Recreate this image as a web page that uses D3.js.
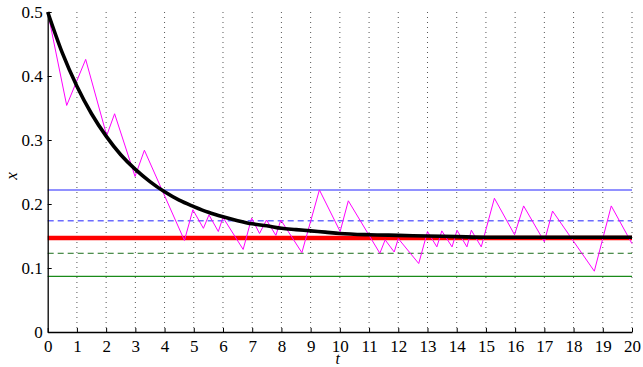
<!DOCTYPE html>
<html>
<head>
<meta charset="utf-8">
<script src="https://cdn.jsdelivr.net/npm/d3@7"></script>
<style>
  body { margin: 0; background: #fff; }
  svg { display: block; }
</style>
</head>
<body>
<svg id="chart" width="643" height="367"></svg>
<script>
// sampled trajectory (magenta zigzag)
const magT = [0, 0.65, 1.30, 2.02, 2.29, 2.99, 3.31, 4.68, 4.97, 5.33, 5.52, 5.84, 6.0, 6.69, 6.98, 7.25, 7.49, 7.81, 7.98, 8.70,
  9.30, 10.01, 10.29, 11.37, 11.55, 11.86, 12.0, 12.7, 13.0, 13.32, 13.49, 13.84, 14.01, 14.35, 14.5, 14.84,
  15.29, 15.98, 16.29, 17.0, 17.28, 18.71, 19.29, 20.0];
const magX = [0.5, 0.354, 0.426, 0.307, 0.341, 0.243, 0.284, 0.143, 0.191, 0.162, 0.183, 0.157, 0.179, 0.129, 0.178, 0.154, 0.175, 0.151, 0.175, 0.124,
  0.222, 0.157, 0.205, 0.123, 0.144, 0.125, 0.146, 0.107, 0.157, 0.133, 0.158, 0.133, 0.159, 0.133, 0.159, 0.133,
  0.209, 0.152, 0.197, 0.141, 0.189, 0.095, 0.197, 0.138];

// mean curve (thick black)
const meanT = [0, 0.5, 1, 1.5, 2, 2.5, 3, 3.5, 4, 4.5, 5, 5.5, 6, 6.5, 7, 7.5, 8, 8.5, 9, 9.5, 10, 11, 12, 13, 14, 15, 16, 17, 18, 19, 20];
const meanX = [0.5, 0.436, 0.384, 0.341, 0.306, 0.277, 0.254, 0.235, 0.219, 0.206, 0.196, 0.187, 0.180, 0.174, 0.169, 0.166, 0.162, 0.160,
  0.158, 0.156, 0.154, 0.152, 0.151, 0.150, 0.149, 0.148, 0.148, 0.148, 0.148, 0.148, 0.148];

// horizontal reference levels
const refLevels = [0.222, 0.174, 0.123, 0.087, 0.147];

const xTicks = d3.range(0, 21);
const yTicks = [0, 0.1, 0.2, 0.3, 0.4, 0.5];

const refStyle = [
  { color: "#6c6cff", width: 1.5, dash: null },
  { color: "#6c6cff", width: 1.5, dash: "6,4" },
  { color: "#1a6e1a", width: 1, dash: "6,4" },
  { color: "#1a8a1a", width: 1.3, dash: null },
  { color: "#ff0000", width: 4.5, dash: null },
];

const serif = "Liberation Serif";

const margin = { top: 12, right: 11, bottom: 35, left: 47.7 };
const svg = d3.select("#chart");
const width = 643 - margin.left - margin.right;
const height = 367 - margin.top - margin.bottom;
const g = svg.append("g").attr("transform", `translate(${margin.left},${margin.top})`);

const x = d3.scaleLinear().domain([0, 20]).range([0, width]);
const y = d3.scaleLinear().domain([0, 0.5]).range([height, 0]);

// dotted vertical grid
g.append("g")
  .selectAll("line")
  .data(xTicks.slice(1))
  .join("line")
  .attr("x1", (d) => x(d))
  .attr("x2", (d) => x(d))
  .attr("y1", 0)
  .attr("y2", height)
  .attr("stroke", "#555")
  .attr("stroke-width", 1)
  .attr("stroke-dasharray", "1,4");

// reference lines
g.append("g")
  .selectAll("line")
  .data(refLevels)
  .join("line")
  .attr("x1", 0)
  .attr("x2", width)
  .attr("y1", (d) => y(d))
  .attr("y2", (d) => y(d))
  .attr("stroke", (_d, i) => refStyle[i].color)
  .attr("stroke-width", (_d, i) => refStyle[i].width)
  .attr("stroke-dasharray", (_d, i) => refStyle[i].dash);

const line = d3.line().x((d) => x(d[0])).y((d) => y(d[1]));

g.append("path")
  .datum(magT.map((t, i) => [t, magX[i]]))
  .attr("fill", "none")
  .attr("stroke", "#ff00ff")
  .attr("stroke-width", 1)
  .attr("d", line);

g.append("path")
  .datum(meanT.map((t, i) => [t, meanX[i]]))
  .attr("fill", "none")
  .attr("stroke", "#000")
  .attr("stroke-width", 3.6)
  .attr("stroke-linejoin", "round")
  .attr("d", line.curve(d3.curveMonotoneX));

// axes
const xAxis = g.append("g")
  .attr("transform", `translate(0,${height})`)
  .call(d3.axisBottom(x).tickValues(xTicks).tickFormat(d3.format("d")).tickSizeInner(-4).tickSizeOuter(0).tickPadding(8));

const yAxis = g.append("g")
  .call(d3.axisLeft(y).tickValues(yTicks).tickFormat((d) => d === 0 ? "0" : d3.format(".1f")(d)).tickSizeInner(-4).tickSizeOuter(0).tickPadding(5));

[xAxis, yAxis].forEach((a) => {
  a.attr("font-family", serif).attr("font-size", 17);
  a.select(".domain").attr("stroke", "#000").attr("stroke-width", 1.3);
  a.selectAll(".tick line").attr("stroke", "#000");
  a.selectAll(".tick text").attr("fill", "#000");
});

// axis labels
svg.append("text")
  .attr("x", margin.left + width / 2 - 2)
  .attr("y", 364)
  .attr("text-anchor", "middle")
  .attr("font-family", serif)
  .attr("font-style", "italic")
  .attr("font-size", 16)
  .text("t");

svg.append("text")
  .attr("transform", `translate(17,${margin.top + height / 2 + 4}) rotate(-90)`)
  .attr("text-anchor", "middle")
  .attr("font-family", serif)
  .attr("font-style", "italic")
  .attr("font-size", 17)
  .text("x");
</script>
</body>
</html>
